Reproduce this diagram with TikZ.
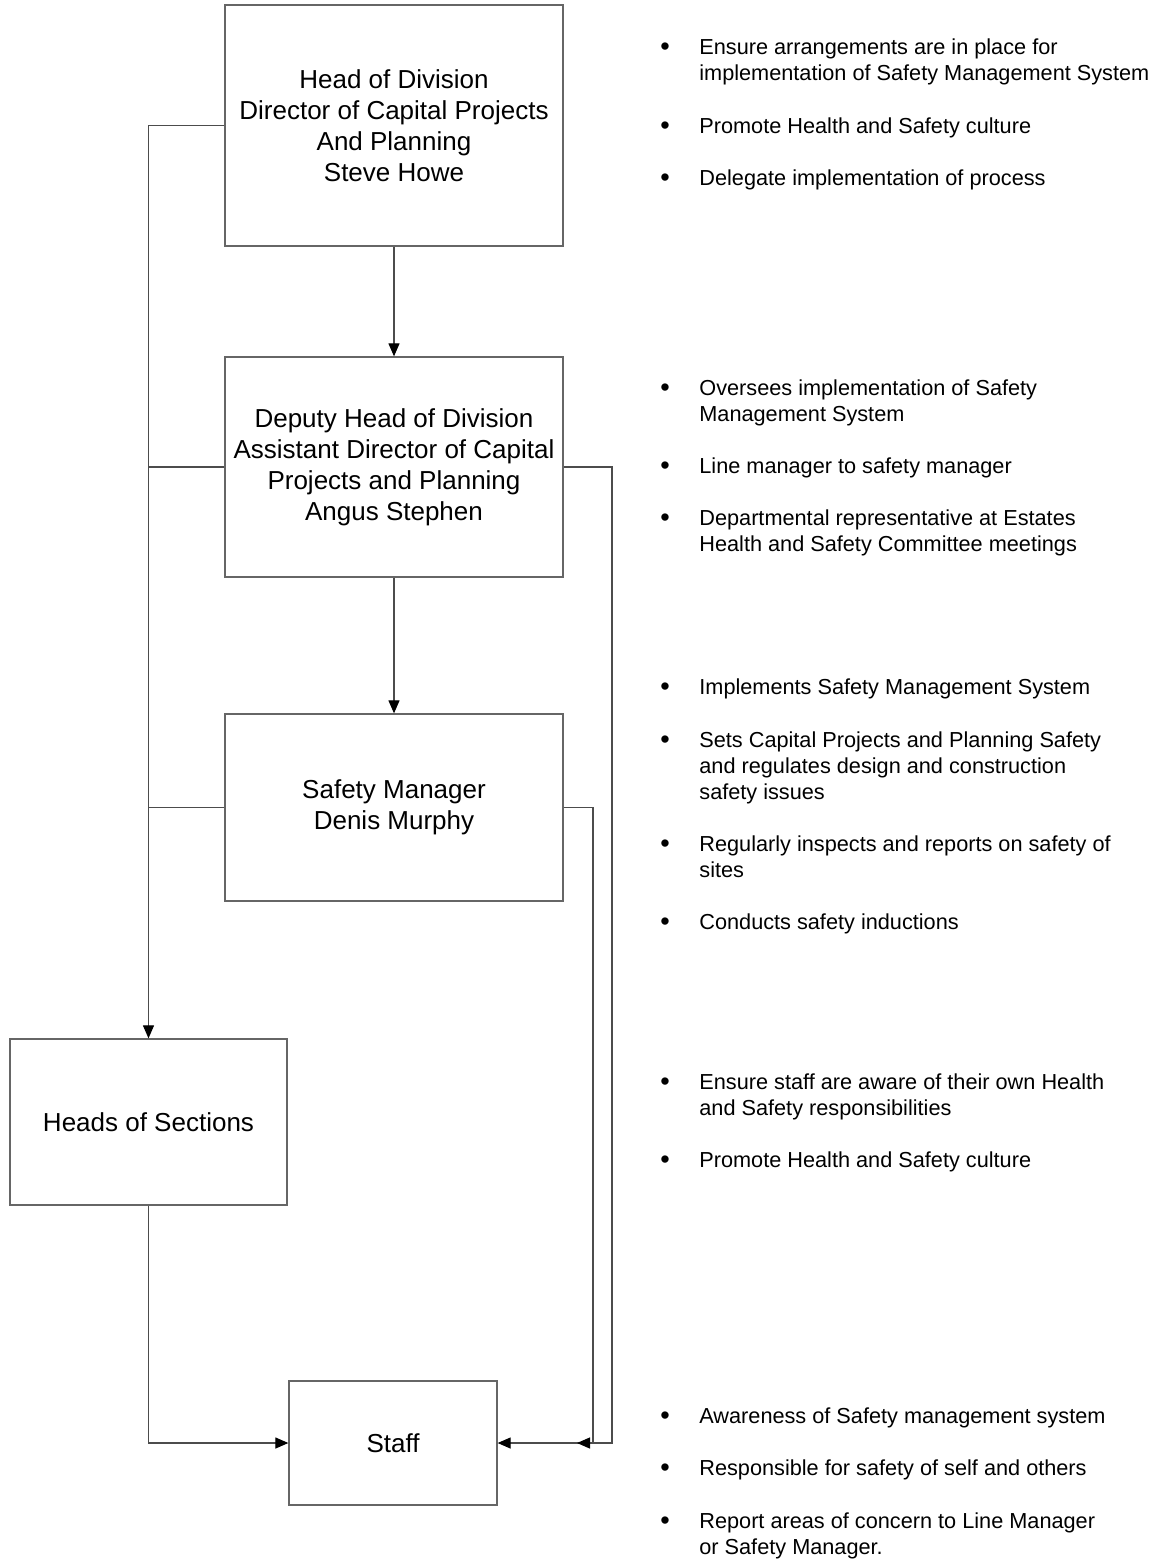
\documentclass[tikz,border=0pt]{standalone}
\usepackage{fontspec}
\setmainfont{Liberation Sans}
\usetikzlibrary{arrows.meta}
\newcommand\bdot{{\fontsize{13.5}{13}\selectfont\raisebox{-0.7pt}{•}}}
\begin{document}
\begin{tikzpicture}[x=0.5pt,y=-0.5pt,
  box/.style={draw=black!60,line width=0.65pt,align=center,inner sep=0pt,
    font=\fontsize{13}{15.5}\selectfont},
  conn/.style={draw=black!70,line width=0.6pt},
  arr/.style={conn,-{Triangle[length=6.5pt,width=5.5pt,color=black]}},
  bul/.style={anchor=base west,inner sep=0pt,font=\fontsize{10.85}{13}\selectfont}]
\useasboundingbox[fill=white] (0,0) rectangle (1158,1560);

% boxes
\node[box,minimum width=169pt,minimum height=120.5pt] (b1) at (394,125.5)
  {Head of Division\\Director of Capital Projects\\And Planning\\Steve Howe};
\node[box,minimum width=169pt,minimum height=110pt] (b2) at (394,467)
  {Deputy Head of Division\\Assistant Director of Capital\\Projects and Planning\\Angus Stephen};
\node[box,minimum width=169pt,minimum height=93.5pt] (b3) at (394,807.5)
  {Safety Manager\\Denis Murphy};
\node[box,minimum width=138.5pt,minimum height=83pt] (b4) at (148.5,1122)
  {Heads of Sections};
\node[box,minimum width=104pt,minimum height=62pt] (b5) at (393,1443)
  {Staff};

% connectors
\draw[arr] (b1.south) -- (b2.north);
\draw[arr] (b2.south) -- (b3.north);
\draw[arr] (b1.west) -| (b4.north);
\draw[conn] (b2.west) -- (b2.west -| b4.north);
\draw[conn] (b3.west) -- (b3.west -| b4.north);
\draw[arr] (b4.south) |- (b5.west);
\coordinate (r3) at (593,807.5);
\draw[arr] (b3.east) -- (r3) |- (b5.east);
\coordinate (r2) at (612,467);
\coordinate (m2) at (577,1443);
\draw[arr] (b2.east) -- (r2) |- (m2);

% bullet lists
\node[bul] (t1a) at (660,54) {\begin{tabular}[t]{@{}p{19.5pt}@{}l@{}}\bdot&Ensure arrangements are in place for\\&implementation of Safety Management System\end{tabular}};
\node[bul] (t1b) at (660,133) {\begin{tabular}[t]{@{}p{19.5pt}@{}l@{}}\bdot&Promote Health and Safety culture\end{tabular}};
\node[bul] (t1c) at (660,185) {\begin{tabular}[t]{@{}p{19.5pt}@{}l@{}}\bdot&Delegate implementation of process\end{tabular}};

\node[bul] (t2a) at (660,395) {\begin{tabular}[t]{@{}p{19.5pt}@{}l@{}}\bdot&Oversees implementation of Safety\\&Management System\end{tabular}};
\node[bul] (t2b) at (660,473) {\begin{tabular}[t]{@{}p{19.5pt}@{}l@{}}\bdot&Line manager to safety manager\end{tabular}};
\node[bul] (t2c) at (660,525) {\begin{tabular}[t]{@{}p{19.5pt}@{}l@{}}\bdot&Departmental representative at Estates\\&Health and Safety Committee meetings\end{tabular}};

\node[bul] (t3a) at (660,694) {\begin{tabular}[t]{@{}p{19.5pt}@{}l@{}}\bdot&Implements Safety Management System\end{tabular}};
\node[bul] (t3b) at (660,747) {\begin{tabular}[t]{@{}p{19.5pt}@{}l@{}}\bdot&Sets Capital Projects and Planning Safety\\&and regulates design and construction\\&safety issues\end{tabular}};
\node[bul] (t3c) at (660,851) {\begin{tabular}[t]{@{}p{19.5pt}@{}l@{}}\bdot&Regularly inspects and reports on safety of\\&sites\end{tabular}};
\node[bul] (t3d) at (660,929) {\begin{tabular}[t]{@{}p{19.5pt}@{}l@{}}\bdot&Conducts safety inductions\end{tabular}};

\node[bul] (t4a) at (660,1089) {\begin{tabular}[t]{@{}p{19.5pt}@{}l@{}}\bdot&Ensure staff are aware of their own Health\\&and Safety responsibilities\end{tabular}};
\node[bul] (t4b) at (660,1167) {\begin{tabular}[t]{@{}p{19.5pt}@{}l@{}}\bdot&Promote Health and Safety culture\end{tabular}};

\node[bul] (t5a) at (660,1423) {\begin{tabular}[t]{@{}p{19.5pt}@{}l@{}}\bdot&Awareness of Safety management system\end{tabular}};
\node[bul] (t5b) at (660,1475) {\begin{tabular}[t]{@{}p{19.5pt}@{}l@{}}\bdot&Responsible for safety of self and others\end{tabular}};
\node[bul] (t5c) at (660,1528) {\begin{tabular}[t]{@{}p{19.5pt}@{}l@{}}\bdot&Report areas of concern to Line Manager\\&or Safety Manager.\end{tabular}};
\end{tikzpicture}
\end{document}
